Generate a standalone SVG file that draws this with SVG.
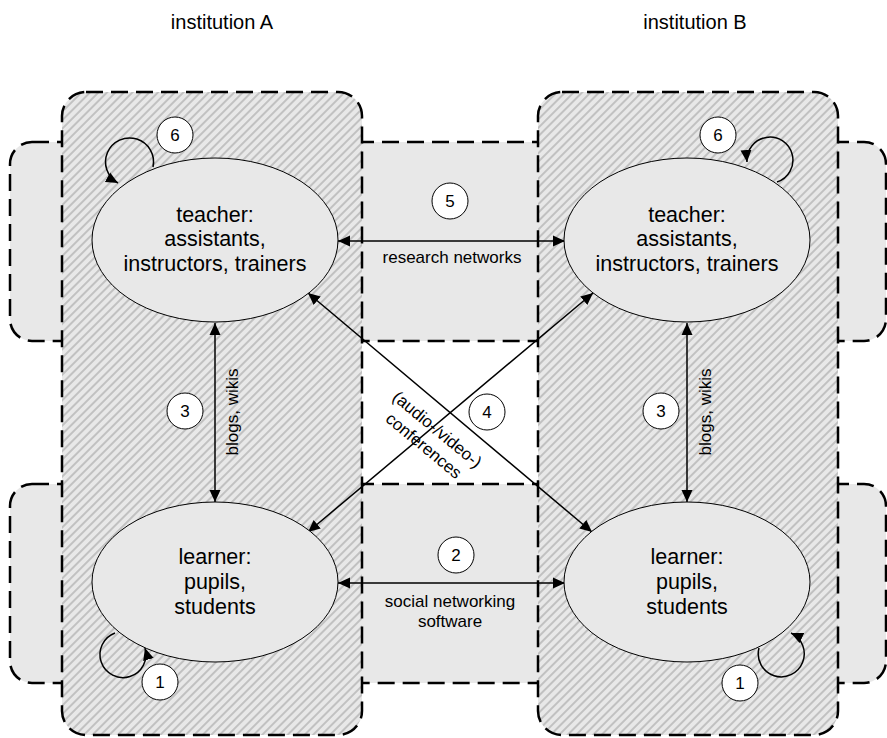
<svg xmlns="http://www.w3.org/2000/svg" width="887" height="738" viewBox="0 0 887 738">
<style>
text{font-family:"Liberation Sans",Arial,sans-serif;fill:#000}
.band{fill:#e8e8e8;stroke:#000;stroke-width:2.5;stroke-dasharray:17 8}
.inst{fill:url(#hatch);stroke:#000;stroke-width:2.5;stroke-dasharray:17 8}
.node{fill:#e8e8e8;stroke:#000;stroke-width:1}
.nt{font-size:21.5px;text-anchor:middle}
.lbl{font-size:17px;text-anchor:middle}
.num circle{fill:#fff;stroke:#000;stroke-width:1}
.num text{font-size:17px;text-anchor:middle}
.arr{fill:none;stroke:#000;stroke-width:1.5;marker-end:url(#ah)}
.arr2{marker-start:url(#ahs)}
.title{font-size:20px;text-anchor:middle}
</style>
<defs>
<pattern id="hatch" width="6" height="6" patternUnits="userSpaceOnUse" patternTransform="rotate(45)">
<rect width="6" height="6" fill="#e8e8e8"/>
<line x1="3" y1="0" x2="3" y2="6" stroke="#b4b4b4" stroke-width="1.5"/>
</pattern>
<marker id="ah" viewBox="0 0 12 12" refX="12" refY="6" markerWidth="12" markerHeight="12" markerUnits="userSpaceOnUse" orient="auto">
<path d="M0,0.5 L12,6 L0,11.5 Z" fill="#000"/>
</marker>
<marker id="ahs" viewBox="0 0 12 12" refX="0" refY="6" markerWidth="12" markerHeight="12" markerUnits="userSpaceOnUse" orient="auto">
<path d="M12,0.5 L0,6 L12,11.5 Z" fill="#000"/>
</marker>
</defs>
<rect width="887" height="738" fill="#fff"/>
<text class="title" x="222" y="29">institution A</text>
<text class="title" x="695" y="29">institution B</text>
<g id="bands">
<rect class="band" x="10" y="142" width="876" height="199" rx="22"/>
<rect class="band" x="10" y="484" width="876" height="199" rx="22"/>
</g>
<g id="institutionA"><rect class="inst" x="62" y="92" width="300" height="643" rx="24"/></g>
<g id="institutionB"><rect class="inst" x="538" y="92" width="300" height="643" rx="24"/></g>
<g id="connectors">
<path class="arr arr2" d="M338,241 L565,241"/>
<path class="arr arr2" d="M338,583 L565,583"/>
<path class="arr arr2" d="M215,323 L215,502"/>
<path class="arr arr2" d="M687,323 L687,502"/>
<path class="arr arr2" d="M308,293 L592,532"/>
<path class="arr arr2" d="M593,293 L308,532"/>
<path class="arr" d="M153,167 A24,24 0 1 0 118,183"/>
<path class="arr" d="M777,182 A23,23 0 1 0 747,162"/>
<path class="arr" d="M115,633 A23,23 0 1 0 145,648"/>
<path class="arr" d="M759,648 A23,23 0 1 0 791,633"/>
<text class="lbl" x="452" y="263">research networks</text>
<text class="lbl" x="450" y="607">social networking</text>
<text class="lbl" x="450" y="627">software</text>
<text class="lbl" transform="translate(238,412) rotate(-90)">blogs, wikis</text>
<text class="lbl" transform="translate(711,412) rotate(-90)">blogs, wikis</text>
<g transform="translate(431,437) rotate(39.6)">
<text class="lbl" x="0" y="-4">(audio-/video-)</text>
<text class="lbl" x="0" y="17">conferences</text>
</g>
</g>
<g id="teacherA"><ellipse class="node" cx="215" cy="240" rx="123" ry="82"/>
<text class="nt" x="215" y="222">teacher:</text><text class="nt" x="215" y="246">assistants,</text><text class="nt" x="215" y="271">instructors, trainers</text></g>
<g id="teacherB"><ellipse class="node" cx="687" cy="240" rx="123" ry="82"/>
<text class="nt" x="687" y="222">teacher:</text><text class="nt" x="687" y="246">assistants,</text><text class="nt" x="687" y="271">instructors, trainers</text></g>
<g id="learnerA"><ellipse class="node" cx="215" cy="582" rx="123" ry="80"/>
<text class="nt" x="215" y="564">learner:</text><text class="nt" x="215" y="589">pupils,</text><text class="nt" x="215" y="614">students</text></g>
<g id="learnerB"><ellipse class="node" cx="687" cy="582" rx="123" ry="80"/>
<text class="nt" x="687" y="564">learner:</text><text class="nt" x="687" y="589">pupils,</text><text class="nt" x="687" y="614">students</text></g>
<g id="numbers" class="num">
<g id="n6a"><circle cx="175" cy="135" r="18"/><text x="175" y="141">6</text></g>
<g id="n6b"><circle cx="718" cy="135" r="18"/><text x="718" y="141">6</text></g>
<g id="n5"><circle cx="450" cy="201" r="18"/><text x="450" y="207">5</text></g>
<g id="n3a"><circle cx="185" cy="411" r="18"/><text x="185" y="417">3</text></g>
<g id="n3b"><circle cx="661" cy="411" r="18"/><text x="661" y="417">3</text></g>
<g id="n4"><circle cx="487" cy="412" r="18"/><text x="487" y="418">4</text></g>
<g id="n2"><circle cx="456" cy="555" r="18"/><text x="456" y="561">2</text></g>
<g id="n1a"><circle cx="160" cy="682" r="18"/><text x="160" y="688">1</text></g>
<g id="n1b"><circle cx="740" cy="683" r="18"/><text x="740" y="689">1</text></g>
</g>
</svg>
